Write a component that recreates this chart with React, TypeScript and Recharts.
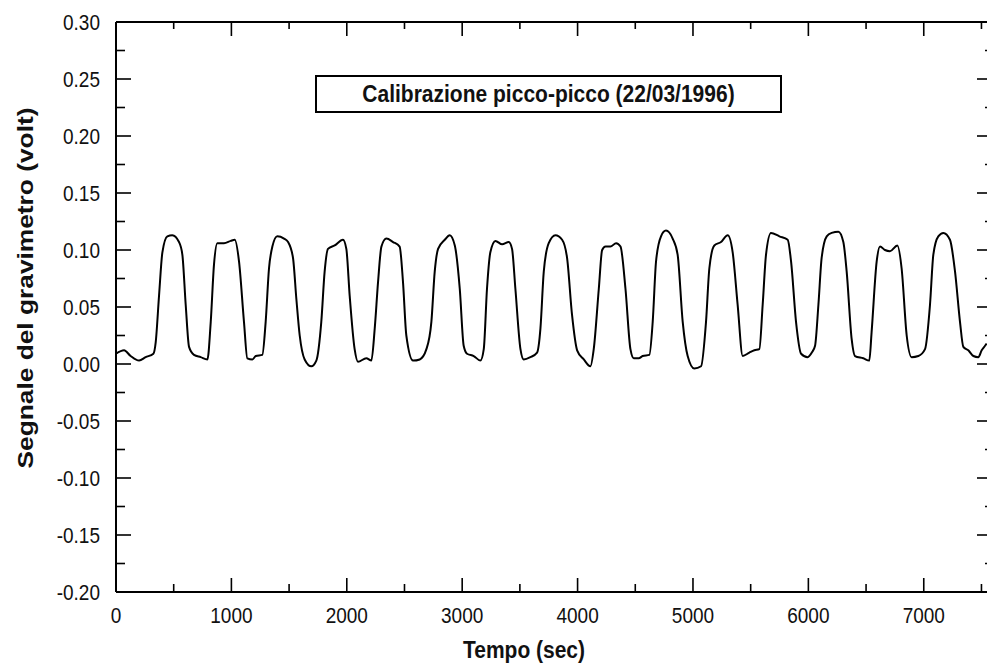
import React from 'react';
import { LineChart, Line, XAxis, YAxis, ReferenceLine } from 'recharts';

// tempo (sec) e segnale (volt)
const tempo = [
    0, 70, 127, 200, 257, 324, 344, 373, 402, 445, 488, 546, 575, 604, 633, 676, 734, 792, 821, 849,
    878, 936, 994, 1029, 1066, 1109, 1138, 1182, 1211, 1268, 1297, 1326, 1355, 1398, 1456, 1491, 1534, 1563, 1592, 1635,
    1693, 1736, 1779, 1808, 1837, 1895, 1967, 1996, 2025, 2068, 2097, 2169, 2213, 2242, 2271, 2300, 2343, 2401, 2458, 2487,
    2516, 2574, 2632, 2690, 2733, 2762, 2791, 2849, 2892, 2936, 2979, 3013, 3042, 3100, 3158, 3187, 3215, 3244, 3288, 3346,
    3404, 3432, 3461, 3505, 3533, 3591, 3649, 3678, 3707, 3750, 3808, 3866, 3909, 3952, 3996, 4054, 4111, 4140, 4184, 4213,
    4242, 4285, 4334, 4372, 4415, 4458, 4487, 4530, 4564, 4622, 4651, 4680, 4723, 4766, 4824, 4867, 4911, 4954, 5012, 5070,
    5113, 5142, 5185, 5243, 5301, 5344, 5387, 5431, 5489, 5532, 5575, 5604, 5633, 5676, 5749, 5821, 5850, 5893, 5937, 5994,
    6030, 6058, 6087, 6115, 6159, 6202, 6260, 6303, 6332, 6375, 6404, 6476, 6528, 6548, 6592, 6621, 6664, 6707, 6771, 6808,
    6852, 6895, 6953, 7011, 7054, 7083, 7126, 7170, 7227, 7271, 7314, 7343, 7386, 7430, 7473, 7502, 7531, 7545,
];

const segnale = [
    0.009, 0.012, 0.007, 0.003, 0.006, 0.009, 0.019, 0.06, 0.098, 0.112, 0.113, 0.107, 0.096, 0.052, 0.015, 0.008, 0.006, 0.004, 0.037, 0.087,
    0.106, 0.106, 0.108, 0.109, 0.09, 0.037, 0.005, 0.004, 0.007, 0.008, 0.037, 0.084, 0.103, 0.112, 0.11, 0.107, 0.093, 0.057, 0.025, 0.004,
    -0.002, 0.003, 0.037, 0.081, 0.101, 0.104, 0.109, 0.101, 0.06, 0.013, 0.002, 0.005, 0.003, 0.031, 0.072, 0.103, 0.11, 0.107, 0.103, 0.072,
    0.025, 0.003, 0.004, 0.013, 0.037, 0.081, 0.101, 0.109, 0.113, 0.104, 0.066, 0.016, 0.009, 0.007, 0.003, 0.013, 0.066, 0.098, 0.108, 0.105,
    0.107, 0.101, 0.066, 0.013, 0.004, 0.006, 0.01, 0.031, 0.081, 0.106, 0.113, 0.109, 0.093, 0.043, 0.012, 0.004, -0.002, 0.013, 0.066, 0.1,
    0.103, 0.103, 0.106, 0.103, 0.066, 0.013, 0.005, 0.005, 0.007, 0.008, 0.037, 0.09, 0.112, 0.117, 0.11, 0.096, 0.037, 0.007, -0.004, -0.002,
    0.037, 0.084, 0.104, 0.107, 0.113, 0.098, 0.052, 0.007, 0.01, 0.012, 0.013, 0.052, 0.096, 0.115, 0.112, 0.109, 0.09, 0.037, 0.009, 0.006,
    0.01, 0.016, 0.052, 0.093, 0.112, 0.115, 0.116, 0.107, 0.081, 0.022, 0.007, 0.005, 0.003, 0.028, 0.09, 0.103, 0.1, 0.099, 0.104, 0.084,
    0.025, 0.006, 0.007, 0.013, 0.052, 0.096, 0.112, 0.115, 0.109, 0.081, 0.037, 0.015, 0.012, 0.007, 0.006, 0.012, 0.016, 0.018,
];

const xMajorTicks = [0, 1000, 2000, 3000, 4000, 5000, 6000, 7000];
const xMinorTicks = [500, 1500, 2500, 3500, 4500, 5500, 6500, 7500];
const yMajorTicks = [-0.2, -0.15, -0.1, -0.05, 0, 0.05, 0.1, 0.15, 0.2, 0.25, 0.3];
const yMinorTicks = [-0.175, -0.125, -0.075, -0.025, 0.025, 0.075, 0.125, 0.175, 0.225, 0.275];

const titolo = 'Calibrazione picco-picco (22/03/1996)';
const xTitle = 'Tempo (sec)';
const yTitle = 'Segnale del gravimetro (volt)';

const data = tempo.map((t, i) => ({ t, v: segnale[i] }));
const xTicks = [...xMajorTicks, ...xMinorTicks].sort((a, b) => a - b);
const yTicks = [...yMajorTicks, ...yMinorTicks].sort((a, b) => a - b);

const CHART_W = 1000;
const CHART_H = 666;
const MARGIN = { top: 22, right: 7, bottom: 0, left: 0 };
const PLOT_TOP = MARGIN.top;
const PLOT_RIGHT = CHART_W - MARGIN.right;

const FONT = '"Liberation Sans", Arial, Helvetica, sans-serif';
const STRETCH = 1.13;

const isMajor = (v: number, list: number[]) => list.some((m) => Math.abs(m - v) < 1e-9);

// tacche in basso + specchio in alto (verso l'interno)
const BottomTick = ({ x, y, payload }: any) => {
    const major = isMajor(payload.value, xMajorTicks);
    return (
        <g>
            <line x1={x} y1={y} x2={x} y2={y - (major ? 14 : 8)} stroke="#000" strokeWidth={1.6} />
            <line x1={x} y1={PLOT_TOP} x2={x} y2={PLOT_TOP + (major ? 14 : 7)} stroke="#000" strokeWidth={1.6} />
            {major && (
                <text transform={`translate(${x},${y + 31}) scale(1,${STRETCH})`} textAnchor="middle" fontSize={19} fontFamily={FONT} fill="#111">
                    {payload.value}
                </text>
            )}
        </g>
    );
};

// tacche a sinistra + specchio a destra
const LeftTick = ({ x, y, payload }: any) => {
    const major = isMajor(payload.value, yMajorTicks);
    return (
        <g>
            <line x1={x} y1={y} x2={x + (major ? 15 : 9)} y2={y} stroke="#000" strokeWidth={1.6} />
            <line x1={PLOT_RIGHT} y1={y} x2={PLOT_RIGHT - (major ? 16 : 8)} y2={y} stroke="#000" strokeWidth={1.6} />
            {major && (
                <text transform={`translate(${x - 16},${y + 8}) scale(1,${STRETCH})`} textAnchor="end" fontSize={19} fontFamily={FONT} fill="#111">
                    {payload.value.toFixed(2)}
                </text>
            )}
        </g>
    );
};

const XTitle = ({ viewBox }: any) => (
    <text transform={`translate(${viewBox.x + 408},${viewBox.y + 66}) scale(1,${STRETCH})`} textAnchor="middle" fontSize={21} fontWeight="bold" fontFamily={FONT} fill="#111">
        {xTitle}
    </text>
);

const YTitle = ({ viewBox }: any) => (
    <text
        transform={`translate(${viewBox.x + 33},${viewBox.y + 266}) rotate(-90)`}
        textAnchor="middle"
        fontSize={22}
        fontWeight="bold"
        fontFamily={FONT}
        textLength={361}
        lengthAdjust="spacingAndGlyphs"
        fill="#111"
    >
        {yTitle}
    </text>
);

const App: React.FC = () => {
    return (
        <div style={{ position: 'fixed', left: 0, top: 0, width: 987, height: 666, overflow: 'hidden', background: '#fff' }}>
            <LineChart width={CHART_W} height={CHART_H} data={data} margin={MARGIN}>
                <XAxis
                    dataKey="t"
                    type="number"
                    domain={[0, 7600]}
                    ticks={xTicks}
                    interval={0}
                    height={74}
                    tickSize={0}
                    tickMargin={0}
                    tickLine={false}
                    axisLine={{ stroke: '#000', strokeWidth: 2 }}
                    tick={(p: any) => <BottomTick {...p} />}
                    label={<XTitle />}
                />
                <YAxis
                    type="number"
                    domain={[-0.2, 0.3]}
                    ticks={yTicks}
                    interval={0}
                    width={116}
                    tickSize={0}
                    tickMargin={0}
                    tickLine={false}
                    axisLine={{ stroke: '#000', strokeWidth: 2 }}
                    tick={(p: any) => <LeftTick {...p} />}
                    label={<YTitle />}
                />
                <ReferenceLine y={0.3} stroke="#000" strokeWidth={2} />
                <ReferenceLine x={7600} stroke="#000" strokeWidth={2} />
                <Line type="monotone" dataKey="v" stroke="#000" strokeWidth={2} dot={false} isAnimationActive={false} />
            </LineChart>
            <div
                style={{
                    position: 'absolute',
                    left: 315,
                    top: 75,
                    width: 467,
                    height: 38,
                    boxSizing: 'border-box',
                    border: '2px solid #000',
                    display: 'flex',
                    alignItems: 'center',
                    justifyContent: 'center',
                    fontFamily: FONT,
                    fontWeight: 'bold',
                    fontSize: 21,
                    color: '#111',
                }}
            >
                <span style={{ display: 'inline-block', transform: `scaleY(${STRETCH})` }}>{titolo}</span>
            </div>
        </div>
    );
};

export default App;
